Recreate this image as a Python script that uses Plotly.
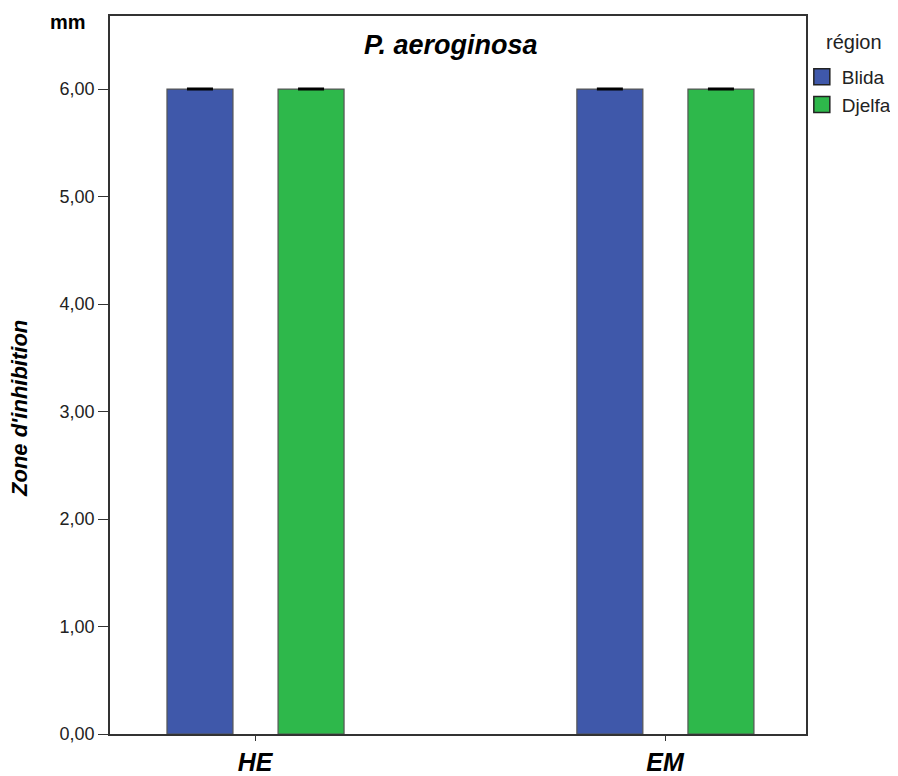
import plotly.graph_objects as go

categories = ["HE", "EM"]
regions = ["Blida", "Djelfa"]
blida = [6.0, 6.0]
djelfa = [6.0, 6.0]
blida_err = [0.0, 0.0]
djelfa_err = [0.0, 0.0]
ytick_vals = [0, 1, 2, 3, 4, 5, 6]

colors = {"Blida": "#3F58AA", "Djelfa": "#2EB84B"}
offsets = {"Blida": -0.215, "Djelfa": 0.056}

fig = go.Figure()
for name, vals, errs in [("Blida", blida, blida_err), ("Djelfa", djelfa, djelfa_err)]:
    fig.add_trace(go.Bar(
        x=[0, 1], y=vals, name=name, showlegend=False, legendgroup=name,
        offset=offsets[name], width=0.161,
        marker=dict(color=colors[name], line=dict(color="#555555", width=1.2)),
        error_y=dict(type="data", array=errs, visible=True, color="black", thickness=3, width=13),
    ))
# legend entries with larger square swatches
for name in regions:
    fig.add_trace(go.Scatter(
        x=[None], y=[None], mode="markers", name=name, legendgroup=name,
        marker=dict(symbol="square", size=20, color=colors[name],
                    line=dict(color="#222222", width=1.5)),
    ))

font_family = "Liberation Sans, Arial, sans-serif"
PL, PT, PW, PH = 102, 8, 696, 718  # plot area in figure coords (page adds 8px body margin)
fig.update_layout(
    width=890, height=768,
    margin=dict(l=PL, r=890 - PL - PW, t=PT, b=768 - PT - PH, autoexpand=False),
    plot_bgcolor="white", paper_bgcolor="white",
    separators=",.",
    font=dict(family=font_family, color="#222222", size=14),
    showlegend=True,
    legend=dict(
        x=0.994, y=1 - (58 - 16) / PH, xanchor="left", yanchor="top",
        font=dict(size=19, color="#222222"), itemwidth=30, tracegroupgap=0,
        bgcolor="rgba(0,0,0,0)",
    ),
    xaxis=dict(
        range=[-0.354, 1.344], tickmode="array", tickvals=[0, 1], ticktext=categories,
        ticks="outside", ticklen=5, tickcolor="#333333",
        tickfont=dict(size=25, family=font_family, color="black", weight="bold", style="italic"),
        showline=True, linecolor="#333333", linewidth=1.5, mirror=True,
        showgrid=False, zeroline=False,
    ),
    yaxis=dict(
        range=[0, 6.68], tickmode="array", tickvals=ytick_vals, tickformat=".2f",
        ticks="outside", ticklen=10, tickcolor="#333333",
        tickfont=dict(size=18, color="#222222"),
        showline=True, linecolor="#333333", linewidth=1.5, mirror=True,
        showgrid=False, zeroline=False,
    ),
)

def px_x(x):
    return (x - 110) / PW

def px_y(y):
    return 1 - (y - 16) / PH

fig.add_annotation(text="Zone d'inhibition", xref="paper", yref="paper", x=px_x(20), y=px_y(409),
                   xanchor="center", yanchor="middle", showarrow=False, textangle=-90,
                   font=dict(size=22, color="black", weight="bold", style="italic"))
fig.add_annotation(text="P. aeroginosa", xref="paper", yref="paper", x=px_x(451), y=px_y(45),
                   xanchor="center", yanchor="middle", showarrow=False,
                   font=dict(size=27, color="black", weight="bold", style="italic"))
fig.add_annotation(text="mm", xref="paper", yref="paper", x=px_x(68), y=px_y(22),
                   xanchor="center", yanchor="middle", showarrow=False,
                   font=dict(size=20, color="black", weight="bold"))
fig.add_annotation(text="région", xref="paper", yref="paper", x=px_x(824), y=px_y(42),
                   xanchor="left", yanchor="middle", showarrow=False,
                   font=dict(size=20, color="#222222"))

fig.write_html("out.html")
